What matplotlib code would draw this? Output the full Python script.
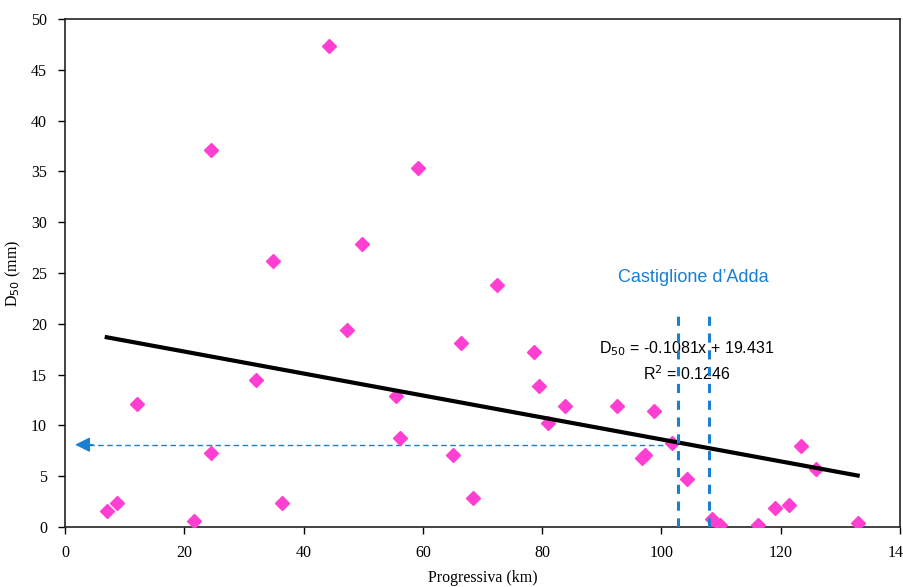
import numpy as np
import matplotlib
matplotlib.use("Agg")
import matplotlib.pyplot as plt

# progressive distance (km) and D50 (mm)
km = [7.0, 8.7, 12.0, 21.7, 24.4, 24.4, 32.1, 34.8, 36.3, 44.3,
      47.3, 49.8, 55.5, 56.2, 59.2, 65.1, 66.4, 68.4, 72.4, 78.6,
      79.4, 80.9, 83.8, 92.5, 96.7, 97.3, 98.8, 101.8, 104.3, 108.4,
      109.9, 116.2, 119.1, 121.4, 123.4, 125.9, 132.9]
d50 = [1.6, 2.4, 12.1, 0.6, 37.1, 7.3, 14.5, 26.2, 2.4, 47.3,
       19.4, 27.9, 12.9, 8.8, 35.3, 7.1, 18.1, 2.9, 23.8, 17.2,
       13.9, 10.2, 11.9, 11.9, 6.8, 7.1, 11.4, 8.25, 4.7, 0.8,
       0.15, 0.15, 1.9, 2.2, 8.0, 5.7, 0.35]

slope, intercept = -0.1081, 19.431
r2 = 0.1246

castiglione_km = [102.7, 108.0]
arrow_y = 8.1
arrow_x = [101.8, 1.7]

blue = '#1a7fd0'
pink = '#ff3fd2'

fig = plt.figure(figsize=(9.04, 5.87), dpi=100)
ax = fig.add_axes([65 / 904, 60 / 587, 835 / 904, 508 / 587])

ax.plot(km, d50, linestyle='none', marker='D', ms=7.5, color=pink, zorder=3)

xt = np.array([min(km), max(km)])
ax.plot(xt, slope * xt + intercept, color='black', lw=3, zorder=4)

# Castiglione d'Adda reach
for xv in castiglione_km:
    ax.plot([xv, xv], [0, 21.3], color=blue, lw=2.2, ls=(0, (3, 2.5)), zorder=5)
ax.text(np.mean(castiglione_km), 24.6, "Castiglione d\u2019Adda", color=blue,
        ha='center', va='center', fontsize=13, family='Liberation Sans')

# dashed arrow reading the trend back to the y axis
ax.plot([arrow_x[0], arrow_x[1] + 2.0], [arrow_y, arrow_y], color=blue, lw=1.0,
        ls=(0, (4, 2.5)), zorder=2)
ax.annotate('', xy=(arrow_x[1], arrow_y), xytext=(arrow_x[1] + 3.0, arrow_y),
            arrowprops=dict(arrowstyle='-|>,head_length=0.7,head_width=0.35',
                            color=blue, lw=1.0, mutation_scale=13,
                            shrinkA=0, shrinkB=0))

ax.text(104.3, 17.6, r"D$_{50}$ = -0.1081x + 19.431", ha='center', va='center',
        fontsize=11.5, family='Liberation Sans')
ax.text(104.3, 15.1, r"R$^{2}$ = 0.1246", ha='center', va='center',
        fontsize=11.5, family='Liberation Sans')

ax.set_xlim(0, 140)
ax.set_ylim(0, 50)
ax.set_xticks(np.arange(0, 141, 20))
ax.set_yticks(np.arange(0, 51, 5))
for lab in ax.get_xticklabels() + ax.get_yticklabels():
    lab.set_family('Liberation Serif')
    lab.set_fontsize(11.5)
ax.tick_params(direction='out', length=5, width=1, pad=8)
for s in ax.spines.values():
    s.set_linewidth(1.2)
    s.set_color('#222222')

ax.set_xlabel('Progressiva (km)', family='Liberation Serif', fontsize=11.5)
ax.xaxis.set_label_coords(0.5, -0.085)
ax.set_ylabel(r'D$_{50}$ (mm)', family='Liberation Serif', fontsize=11.5, labelpad=6)

fig.savefig('out.png', dpi=100)
